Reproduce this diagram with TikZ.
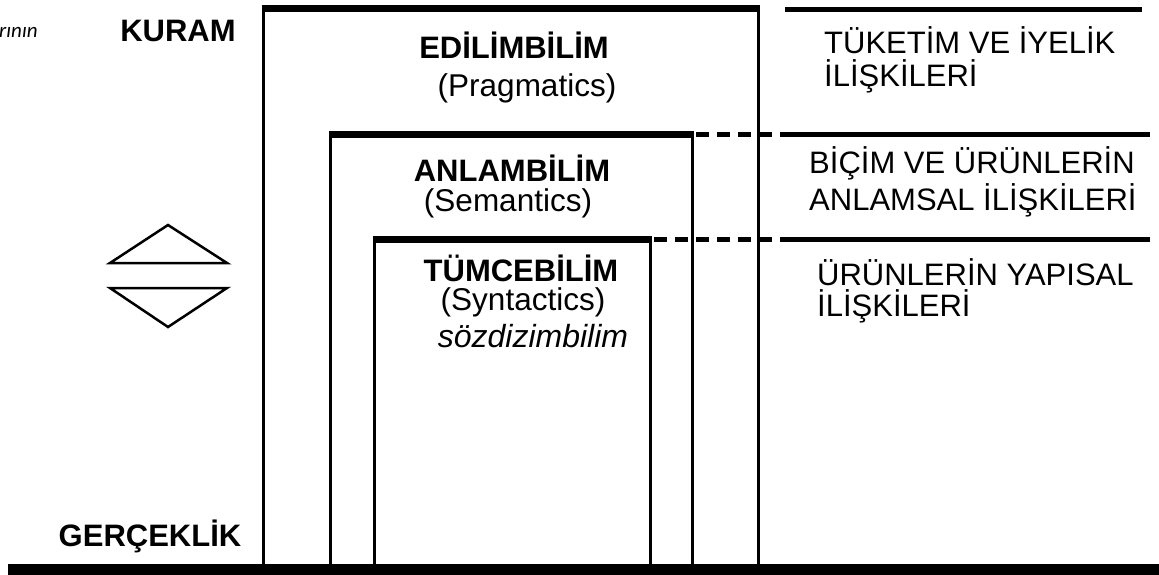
\documentclass[tikz,border=0pt]{standalone}
\usepackage{fontspec}
\setmainfont{Liberation Sans}
\newfontfamily\marginfont{Carlito}
\begin{document}
\begin{tikzpicture}[x=1pt,y=-1pt,
  lbl/.style={inner sep=0pt, font=\fontsize{31}{34}\selectfont\bfseries},
  ttl/.style={inner sep=0pt, font=\fontsize{31}{34}\selectfont\bfseries},
  sub/.style={inner sep=0pt, font=\fontsize{31.5}{34}\selectfont},
  rtxt/.style={inner sep=0pt, anchor=west, font=\fontsize{31}{34}\selectfont},
  vline/.style={line width=3pt},
  topline/.style={line width=7pt},
  sepline/.style={line width=5pt},
  dashline/.style={line width=5pt, dash pattern=on 13pt off 8pt},
  tri/.style={line width=2.5pt, line join=miter}]
\useasboundingbox (0,0) rectangle (1159,575);
\fill[white] (0,0) rectangle (1159,575);

% coordinates
\coordinate (oTL) at (263,9);   \coordinate (oTR) at (758,9);
\coordinate (oBL) at (263,564); \coordinate (oBR) at (758,564);
\coordinate (mTL) at (330,135); \coordinate (mTR) at (692,135);
\coordinate (mBL) at (330,564); \coordinate (mBR) at (692,564);
\coordinate (iTL) at (374,239); \coordinate (iTR) at (650,239);
\coordinate (iBL) at (374,564); \coordinate (iBR) at (650,564);
\coordinate (r1a) at (785,10);  \coordinate (r1b) at (1142,10);
\coordinate (r2a) at (781,135); \coordinate (r2b) at (1150,135);
\coordinate (r3a) at (781,239); \coordinate (r3b) at (1150,239);
\coordinate (baseL) at (8,569.5); \coordinate (baseR) at (1159,569.5);

% boxes
\draw[vline] (oBL) -- (oTL);
\draw[vline] (oBR) -- (oTR);
\draw[topline] ([xshift=-1.5pt]oTL) -- ([xshift=1.5pt]oTR);
\draw[vline] (mBL) -- (mTL);
\draw[vline] (mBR) -- (mTR);
\draw[topline] ([xshift=-1.5pt]mTL) -- ([xshift=1.5pt]mTR);
\draw[vline] (iBL) -- (iTL);
\draw[vline] (iBR) -- (iTR);
\draw[topline] ([xshift=-1.5pt]iTL) -- ([xshift=1.5pt]iTR);

% dashed connections
\draw[dashline] ([xshift=4pt]mTR) -- (r2a);
\draw[dashline] ([xshift=4pt]iTR) -- (r3a);

% right separator lines
\draw[sepline] (r1a) -- (r1b);
\draw[sepline] (r2a) -- (r2b);
\draw[sepline] (r3a) -- (r3b);

% base
\draw[line width=11pt] (baseL) -- (baseR);

% triangles
\coordinate (t1a) at (168,225); \coordinate (t1b) at (110,263); \coordinate (t1c) at (227,263);
\coordinate (t2a) at (168,327); \coordinate (t2b) at (110,288); \coordinate (t2c) at (227,288);
\draw[tri] (t1a) -- (t1b) -- (t1c) -- cycle;
\draw[tri] (t2a) -- (t2b) -- (t2c) -- cycle;

% labels
\node[anchor=west, inner sep=0pt, font=\fontsize{21}{24}\selectfont\marginfont\itshape] (frag) at (-1,32) {rının};
\node[lbl] (kuram) at (178,31) {KURAM};
\node[lbl] (gercek) at (150,536) {GERÇEKLİK};

\node[ttl] (edil) at (514,45) {EDİLİMBİLİM};
\node[sub] (prag) at (527,88) {(Pragmatics)};
\node[ttl] (anlam) at (512,168) {ANLAMBİLİM};
\node[sub] (sem) at (508,203) {(Semantics)};
\node[ttl] (tumce) at (521,268) {TÜMCEBİLİM};
\node[sub] (syn) at (523,302) {(Syntactics)};
\node[sub, font=\fontsize{32}{34}\selectfont\itshape] (soz) at (533,336) {sözdizimbilim};

\node[rtxt] (r1t) at (824,40) {TÜKETİM VE İYELİK};
\node[rtxt] (r1u) at (824,76) {İLİŞKİLERİ};
\node[rtxt] (r2t) at (809,163) {BİÇİM VE ÜRÜNLERİN};
\node[rtxt] (r2u) at (809,200) {ANLAMSAL İLİŞKİLERİ};
\node[rtxt] (r3t) at (817,272) {ÜRÜNLERİN YAPISAL};
\node[rtxt] (r3u) at (817,306) {İLİŞKİLERİ};
\end{tikzpicture}
\end{document}
